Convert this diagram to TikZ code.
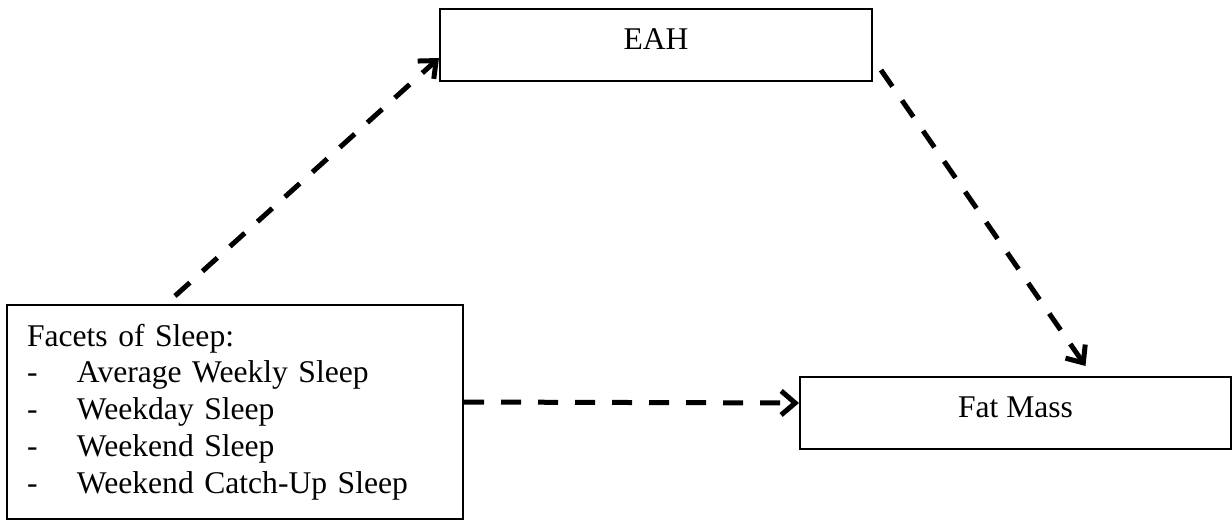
\documentclass[tikz,border=0pt]{standalone}
\usepackage{fontspec}
\setmainfont{Liberation Serif}
\usetikzlibrary{arrows.meta}
\begin{document}
\begin{tikzpicture} [x = 0.5pt, y = -0.5pt, font = \fontsize{15.8pt}{18.4pt}\selectfont,
			box/.style = {draw, line width = 1pt, inner sep = 0pt, text height = 20pt, text depth = 16pt},
			link/.style = {line width = 2.5pt, dash pattern = on 10pt off 8.5pt, -{Straight Barb[length = 7pt, width = 12pt]}}]
			\useasboundingbox (0,0) rectangle (1232,521);
			
			\node [box, minimum width = 216pt] (eah) at (656,45) {EAH};
			\node [box, minimum width = 215.5pt] (fat) at (1015.5,413) {Fat Mass};
			\node [draw, line width = 1pt, align = left, text width = 208pt, inner xsep = 10pt, inner ysep = 0pt, minimum height = 107pt] (facets) at (235,412)
				{Facets of Sleep:\\
				\makebox[25pt][l]{-}Average Weekly Sleep\\
				\makebox[25pt][l]{-}Weekday Sleep\\
				\makebox[25pt][l]{-}Weekend Sleep\\
				\makebox[25pt][l]{-}Weekend Catch-Up Sleep};
			
			\draw [link] ([xshift = -30pt, yshift = 4pt] facets.north) to ([yshift = -6.5pt] eah.west) ;
			\draw [link] ([xshift = 4pt, yshift = -12.5pt] eah.east) to ([xshift = 35pt, yshift = 5pt] fat.north) ;
			\draw [link] ([yshift = 5pt] facets.east) to ([yshift = 5pt] fat.west) ;
		\end{tikzpicture}
\end{document}
